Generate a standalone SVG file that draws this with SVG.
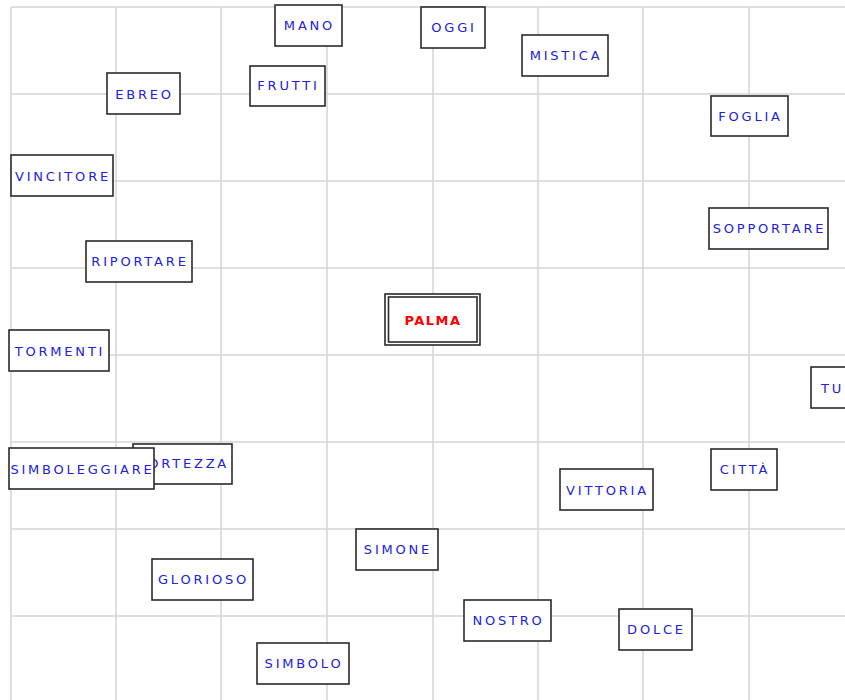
<svg xmlns="http://www.w3.org/2000/svg" width="845" height="700" viewBox="0 0 845 700">
<style>
.grid line{stroke:#d4d4d4;stroke-width:1.5}
.node rect{fill:#fff;stroke:#2a2a2a;stroke-width:1.6}
.node text{font-family:"DejaVu Sans",Verdana,sans-serif;font-size:13px;letter-spacing:2.8px;fill:#2020dd;text-anchor:middle}
#palma text{fill:#ff0000;font-weight:bold;letter-spacing:1.5px}
</style>
<rect width="845" height="700" fill="#fff"/>
<g class="grid">
<line x1="11" y1="7" x2="845" y2="7"/>
<line x1="11" y1="94" x2="845" y2="94"/>
<line x1="11" y1="181" x2="845" y2="181"/>
<line x1="11" y1="268" x2="845" y2="268"/>
<line x1="11" y1="355" x2="845" y2="355"/>
<line x1="11" y1="442" x2="845" y2="442"/>
<line x1="11" y1="529" x2="845" y2="529"/>
<line x1="11" y1="616" x2="845" y2="616"/>
<line x1="11" y1="7" x2="11" y2="700"/>
<line x1="116" y1="7" x2="116" y2="700"/>
<line x1="221" y1="7" x2="221" y2="700"/>
<line x1="327" y1="7" x2="327" y2="700"/>
<line x1="433" y1="7" x2="433" y2="700"/>
<line x1="538" y1="7" x2="538" y2="700"/>
<line x1="643" y1="7" x2="643" y2="700"/>
<line x1="749" y1="7" x2="749" y2="700"/>
</g>
<g id="connectors"></g>
<g id="mano" class="node"><rect x="275" y="5" width="67" height="41"/><text x="309.5" y="30">MANO</text></g>
<g id="oggi" class="node"><rect x="421" y="7" width="64" height="41"/><text x="454" y="32">OGGI</text></g>
<g id="mistica" class="node"><rect x="522" y="35" width="86" height="41"/><text x="566" y="60">MISTICA</text></g>
<g id="ebreo" class="node"><rect x="107" y="73" width="73" height="41"/><text x="144.5" y="98.5">EBREO</text></g>
<g id="frutti" class="node"><rect x="250" y="66" width="75" height="40"/><text x="288.5" y="90">FRUTTI</text></g>
<g id="foglia" class="node"><rect x="711" y="96" width="77" height="40"/><text x="750.5" y="120.5">FOGLIA</text></g>
<g id="vincitore" class="node"><rect x="11" y="155" width="102" height="41"/><text x="63" y="180.5">VINCITORE</text></g>
<g id="sopportare" class="node"><rect x="709" y="208" width="119" height="41"/><text x="769.5" y="232.5">SOPPORTARE</text></g>
<g id="riportare" class="node"><rect x="86" y="241" width="106" height="41"/><text x="140" y="266">RIPORTARE</text></g>
<g id="palma" class="node"><rect x="385" y="294" width="95" height="51"/><rect x="388.5" y="297" width="88.5" height="45"/><text x="433" y="324.5">PALMA</text></g>
<g id="tormenti" class="node"><rect x="9" y="330" width="100" height="41"/><text x="60" y="355.5">TORMENTI</text></g>
<g id="tu" class="node"><rect x="811" y="367" width="40" height="41"/><text x="832.5" y="392.5">TU</text></g>
<g id="fortezza" class="node"><rect x="133" y="444" width="99" height="40"/><text x="183.5" y="468">FORTEZZA</text></g>
<g id="simboleggiare" class="node"><rect x="9" y="448" width="145" height="41"/><text x="82.5" y="473.5">SIMBOLEGGIARE</text></g>
<g id="citta" class="node"><rect x="711" y="449" width="66" height="41"/><text x="745" y="474">CITTÀ</text></g>
<g id="vittoria" class="node"><rect x="560" y="469" width="93" height="41"/><text x="607.5" y="494.5">VITTORIA</text></g>
<g id="simone" class="node"><rect x="356" y="529" width="82" height="41"/><text x="398" y="554">SIMONE</text></g>
<g id="glorioso" class="node"><rect x="152" y="559" width="101" height="41"/><text x="203.5" y="584">GLORIOSO</text></g>
<g id="nostro" class="node"><rect x="464" y="600" width="87" height="41"/><text x="508.5" y="624.5">NOSTRO</text></g>
<g id="dolce" class="node"><rect x="619" y="609" width="73" height="41"/><text x="656.5" y="634">DOLCE</text></g>
<g id="simbolo" class="node"><rect x="257" y="643" width="92" height="41"/><text x="304" y="668">SIMBOLO</text></g>
</svg>
